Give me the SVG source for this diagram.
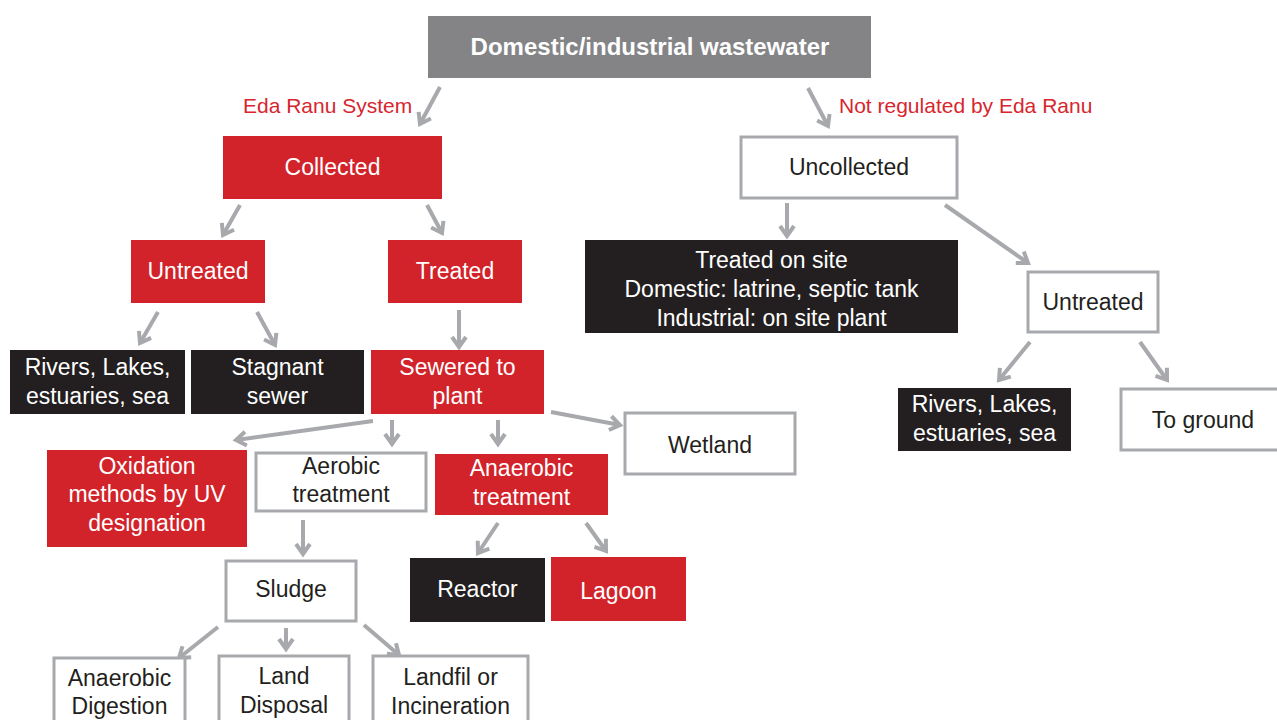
<svg xmlns="http://www.w3.org/2000/svg" width="1277" height="720" viewBox="0 0 1277 720">
  <style>
    .red { fill: #d2232a; }
    .blk { fill: #231f20; }
    .gry { fill: #848487; }
    .wht { fill: #ffffff; stroke: #a7a9ac; stroke-width: 3; }
    text { font-family: "Liberation Sans", Arial, sans-serif; font-size: 23px; text-anchor: middle; }
    .tw { fill: #ffffff; }
    .tb { fill: #231f20; }
    .title { font-weight: bold; font-size: 24px; }
    .lbl { fill: #d7262e; font-size: 21px; text-anchor: start; }
    .conn line { stroke: #a7a9ac; stroke-width: 4; marker-end: url(#arr); }
  </style>
  <defs>
    <marker id="arr" markerUnits="userSpaceOnUse" markerWidth="20" markerHeight="20" viewBox="0 0 20 20" refX="16" refY="10" orient="auto">
      <path d="M6,3 L16,10 L6,17" fill="none" stroke="#a7a9ac" stroke-width="4" stroke-linejoin="miter"/>
    </marker>
  </defs>

  <rect width="1277" height="720" fill="#ffffff"/>

  <!-- connectors -->
  <g id="connectors" class="conn">
    <line x1="440" y1="87" x2="420" y2="124"/>
    <line x1="808" y1="88" x2="828" y2="126"/>
    <line x1="240" y1="205" x2="223" y2="235"/>
    <line x1="427" y1="205" x2="442" y2="233"/>
    <line x1="787" y1="203" x2="787" y2="236"/>
    <line x1="945" y1="205" x2="1028" y2="263"/>
    <line x1="1030" y1="342" x2="999" y2="380"/>
    <line x1="1140" y1="342" x2="1167" y2="380"/>
    <line x1="158" y1="312" x2="140" y2="343"/>
    <line x1="257" y1="312" x2="275" y2="345"/>
    <line x1="459" y1="310" x2="459" y2="347"/>
    <line x1="373" y1="421" x2="236" y2="440"/>
    <line x1="392" y1="420" x2="392" y2="444"/>
    <line x1="498" y1="420" x2="498" y2="444"/>
    <line x1="551" y1="412" x2="620" y2="425"/>
    <line x1="303" y1="520" x2="303" y2="554"/>
    <line x1="498" y1="523" x2="478" y2="553"/>
    <line x1="586" y1="523" x2="606" y2="551"/>
    <line x1="218" y1="627" x2="179" y2="658"/>
    <line x1="286" y1="628" x2="286" y2="649"/>
    <line x1="364" y1="625" x2="399" y2="655"/>
  </g>

  <!-- edge labels -->
  <text class="lbl" x="243" y="113">Eda Ranu System</text>
  <text class="lbl" x="839" y="113">Not regulated by Eda Ranu</text>

  <g id="n-source">
    <rect class="gry" x="428" y="16" width="443" height="62"/>
    <text class="tw title" x="650" y="55">Domestic/industrial wastewater</text>
  </g>
  <g id="n-collected">
    <rect class="red" x="223" y="136" width="219" height="63"/>
    <text class="tw" x="332.5" y="175">Collected</text>
  </g>
  <g id="n-uncollected">
    <rect class="wht" x="741" y="137" width="216" height="61"/>
    <text class="tb" x="849" y="175">Uncollected</text>
  </g>
  <g id="n-untreated-left">
    <rect class="red" x="131" y="240" width="134" height="63"/>
    <text class="tw" x="198" y="279">Untreated</text>
  </g>
  <g id="n-treated">
    <rect class="red" x="388" y="240" width="134" height="63"/>
    <text class="tw" x="455" y="279">Treated</text>
  </g>
  <g id="n-onsite">
    <rect class="blk" x="585" y="240" width="373" height="93"/>
    <text class="tw" x="771.5" y="268">Treated on site</text>
    <text class="tw" x="771.5" y="297">Domestic: latrine, septic tank</text>
    <text class="tw" x="771.5" y="326">Industrial: on site plant</text>
  </g>
  <g id="n-untreated-right">
    <rect class="wht" x="1028" y="272" width="130" height="60"/>
    <text class="tb" x="1093" y="310">Untreated</text>
  </g>
  <g id="n-rivers-right">
    <rect class="blk" x="898" y="388" width="173" height="63"/>
    <text class="tw" x="984.5" y="412">Rivers, Lakes,</text>
    <text class="tw" x="984.5" y="441">estuaries, sea</text>
  </g>
  <g id="n-ground">
    <rect class="wht" x="1121" y="389" width="170" height="61"/>
    <text class="tb" x="1203" y="428">To ground</text>
  </g>
  <g id="n-rivers-left">
    <rect class="blk" x="10" y="350" width="175" height="64"/>
    <text class="tw" x="97.5" y="375">Rivers, Lakes,</text>
    <text class="tw" x="97.5" y="404">estuaries, sea</text>
  </g>
  <g id="n-stagnant">
    <rect class="blk" x="191" y="350" width="173" height="64"/>
    <text class="tw" x="277.5" y="375">Stagnant</text>
    <text class="tw" x="277.5" y="404">sewer</text>
  </g>
  <g id="n-sewered">
    <rect class="red" x="371" y="350" width="173" height="64"/>
    <text class="tw" x="457.5" y="375">Sewered to</text>
    <text class="tw" x="457.5" y="404">plant</text>
  </g>
  <g id="n-wetland">
    <rect class="wht" x="625" y="413" width="170" height="61"/>
    <text class="tb" x="710" y="453">Wetland</text>
  </g>
  <g id="n-oxidation">
    <rect class="red" x="47" y="450" width="200" height="97"/>
    <text class="tw" x="147" y="474">Oxidation</text>
    <text class="tw" x="147" y="502">methods by UV</text>
    <text class="tw" x="147" y="531">designation</text>
  </g>
  <g id="n-aerobic">
    <rect class="wht" x="256" y="453" width="170" height="58"/>
    <text class="tb" x="341" y="474">Aerobic</text>
    <text class="tb" x="341" y="502">treatment</text>
  </g>
  <g id="n-anaerobic">
    <rect class="red" x="435" y="454" width="173" height="61"/>
    <text class="tw" x="521.5" y="476">Anaerobic</text>
    <text class="tw" x="521.5" y="505">treatment</text>
  </g>
  <g id="n-sludge">
    <rect class="wht" x="226" y="561" width="130" height="60"/>
    <text class="tb" x="291" y="597">Sludge</text>
  </g>
  <g id="n-reactor">
    <rect class="blk" x="410" y="558" width="135" height="64"/>
    <text class="tw" x="477.5" y="597">Reactor</text>
  </g>
  <g id="n-lagoon">
    <rect class="red" x="551" y="557" width="135" height="64"/>
    <text class="tw" x="618.5" y="599">Lagoon</text>
  </g>
  <g id="n-digestion">
    <rect class="wht" x="54" y="658" width="131" height="70"/>
    <text class="tb" x="119.5" y="686">Anaerobic</text>
    <text class="tb" x="119.5" y="714">Digestion</text>
  </g>
  <g id="n-land">
    <rect class="wht" x="219" y="656" width="130" height="72"/>
    <text class="tb" x="284" y="684">Land</text>
    <text class="tb" x="284" y="713">Disposal</text>
  </g>
  <g id="n-landfil">
    <rect class="wht" x="373" y="656" width="155" height="72"/>
    <text class="tb" x="450.5" y="685">Landfil or</text>
    <text class="tb" x="450.5" y="714">Incineration</text>
  </g>
</svg>
